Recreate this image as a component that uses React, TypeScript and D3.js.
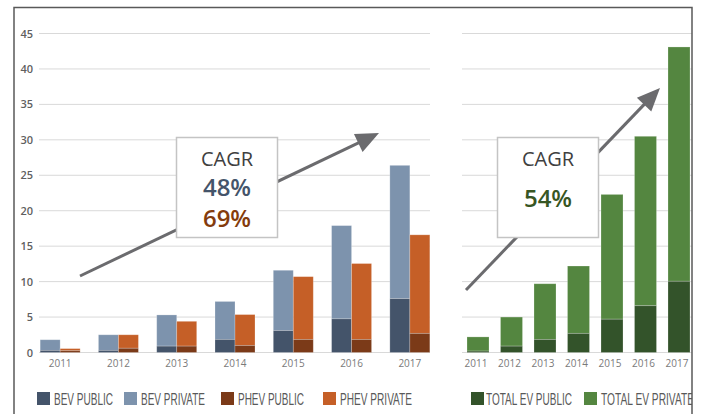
import * as d3 from 'd3';

const years = ['2011', '2012', '2013', '2014', '2015', '2016', '2017'];
const bevPublic = [0.3, 0.3, 0.9, 1.85, 3.1, 4.75, 7.6];
const bevPrivate = [1.5, 2.2, 4.4, 5.35, 8.5, 13.15, 18.8];
const phevPublic = [0.25, 0.6, 0.9, 1.0, 1.85, 1.85, 2.7];
const phevPrivate = [0.3, 1.9, 3.5, 4.35, 8.85, 10.7, 13.9];
const totalPublic = [0.2, 0.9, 1.85, 2.7, 4.7, 6.6, 10.05];
const totalPrivate = [2.0, 4.1, 7.85, 9.5, 17.6, 23.9, 33.05];
const yTicks = [0, 5, 10, 15, 20, 25, 30, 35, 40, 45];

const colors = {
  bevPublic: '#44546a',
  bevPrivate: '#7d93ad',
  phevPublic: '#7b3a18',
  phevPrivate: '#c55f27',
  totalPublic: '#33532a',
  totalPrivate: '#548640',
};

const W = 701;
const H = 414;
const frameRight = 692;
const sansFont = '"Open Sans", "Noto Sans", sans-serif';
const narrowFont = '"Liberation Sans Narrow", "Arial Narrow", "Liberation Sans", sans-serif';

const y = d3.scaleLinear().domain([0, 45]).range([352.5, 33.5]);
const xLeft = d3.scaleBand().domain(years).range([31, 439]).paddingInner(0.314).paddingOuter(0.157);
const xSub = d3.scaleBand().domain(['bev', 'phev']).range([0, xLeft.bandwidth()]);
const xRight = d3.scaleBand().domain(years).range([461.25, 695.75]).paddingInner(0.343).paddingOuter(0.1715);

const barStroke = 'rgba(255,255,255,0.28)';

const arrow = (x1: number, y1: number, x2: number, y2: number) => {
  const len = Math.hypot(x2 - x1, y2 - y1);
  const ux = (x2 - x1) / len;
  const uy = (y2 - y1) / len;
  const headLen = 23;
  const half = 10;
  const bx = x2 - ux * headLen;
  const by = y2 - uy * headLen;
  const pts = [
    [x2, y2],
    [bx - uy * half, by + ux * half],
    [bx + uy * half, by - ux * half],
  ];
  return (
    <g>
      <line x1={x1} y1={y1} x2={bx + ux * 2} y2={by + uy * 2} stroke="#6b6b6e" strokeWidth={3} />
      <polygon points={pts.map((p) => p.join(',')).join(' ')} fill="#6b6b6e" />
    </g>
  );
};

const Stack = ({ x, w, lower, upper, c1, c2 }: any) => (
  <g>
    <rect x={x} y={y(lower + upper)} width={w} height={y(lower) - y(lower + upper)} fill={c2} stroke={barStroke} strokeWidth={0.8} />
    <rect x={x} y={y(lower)} width={w} height={y(0) - y(lower)} fill={c1} stroke={barStroke} strokeWidth={0.8} />
  </g>
);

// legend: square position, gap to text and condensed text width
const legendItems = [
  { label: 'BEV PUBLIC', color: colors.bevPublic, x: 37, gap: 17, w: 59 },
  { label: 'BEV PRIVATE', color: colors.bevPrivate, x: 124, gap: 17, w: 64 },
  { label: 'PHEV PUBLIC', color: colors.phevPublic, x: 221, gap: 17, w: 66 },
  { label: 'PHEV PRIVATE', color: colors.phevPrivate, x: 323, gap: 17, w: 72 },
  { label: 'TOTAL EV PUBLIC', color: colors.totalPublic, x: 471, gap: 15, w: 86 },
  { label: 'TOTAL EV PRIVATE', color: colors.totalPrivate, x: 584, gap: 17, w: 93 },
];

export default function App() {
  return (
    <svg width={W} height={H} style={{ position: 'absolute', left: 0, top: 0, background: '#fff' }}>
      <defs>
        <clipPath id="frame">
          <rect x={0} y={0} width={frameRight} height={H} />
        </clipPath>
      </defs>
      <g clipPath="url(#frame)">
        {/* gridlines */}
        {yTicks.map((t) => (
          <g key={t}>
            <line x1={39} x2={430} y1={y(t)} y2={y(t)} stroke="#d9d9d9" strokeWidth={1} />
            <line x1={462} x2={frameRight} y1={y(t)} y2={y(t)} stroke="#d9d9d9" strokeWidth={1} />
            <text x={33} y={y(t) + 4} textAnchor="end" fontFamily={sansFont} fontSize={11} fontWeight={600} fill="#5f5f5f">
              {t}
            </text>
          </g>
        ))}

        {/* left chart */}
        {years.map((yr, i) => (
          <g key={yr}>
            <Stack x={(xLeft(yr) as number) + (xSub('bev') as number)} w={xSub.bandwidth()} lower={bevPublic[i]} upper={bevPrivate[i]} c1={colors.bevPublic} c2={colors.bevPrivate} />
            <Stack x={(xLeft(yr) as number) + (xSub('phev') as number)} w={xSub.bandwidth()} lower={phevPublic[i]} upper={phevPrivate[i]} c1={colors.phevPublic} c2={colors.phevPrivate} />
            <text x={(xLeft(yr) as number) + xLeft.bandwidth() / 2} y={367} textAnchor="middle" fontFamily={sansFont} fontSize={10} fill="#7a7a7a">
              {yr}
            </text>
          </g>
        ))}

        {/* right chart */}
        {years.map((yr, i) => (
          <g key={'r' + yr}>
            <Stack x={xRight(yr)} w={xRight.bandwidth()} lower={totalPublic[i]} upper={totalPrivate[i]} c1={colors.totalPublic} c2={colors.totalPrivate} />
            <text x={(xRight(yr) as number) + xRight.bandwidth() / 2 - 2} y={367} textAnchor="middle" fontFamily={sansFont} fontSize={10} fill="#7a7a7a">
              {yr}
            </text>
          </g>
        ))}

        {/* arrows */}
        {arrow(80, 276, 379, 133)}
        {arrow(466, 290, 660, 88)}

        {/* CAGR boxes */}
        <rect x={176.5} y={137.5} width={101} height={100} fill="#fff" stroke="#c4c4c4" strokeWidth={1.5} />
        <text x={227} y={166} textAnchor="middle" fontFamily={sansFont} fontSize={20} fill="#404040">CAGR</text>
        <text x={227} y={196} textAnchor="middle" fontFamily={sansFont} fontSize={24} fontWeight={600} fill="#44546a">48%</text>
        <text x={227} y={227} textAnchor="middle" fontFamily={sansFont} fontSize={24} fontWeight={600} fill="#843c0c">69%</text>

        <rect x={497.5} y={137.5} width={101} height={100} fill="#fff" stroke="#c4c4c4" strokeWidth={1.5} />
        <text x={548} y={166} textAnchor="middle" fontFamily={sansFont} fontSize={20} fill="#404040">CAGR</text>
        <text x={548} y={207} textAnchor="middle" fontFamily={sansFont} fontSize={24} fontWeight={600} fill="#375623">54%</text>

        {/* legend */}
        {legendItems.map((l) => (
          <g key={l.label}>
            <rect x={l.x} y={392} width={13} height={13} fill={l.color} />
            <text
              x={l.x + l.gap}
              y={404.5}
              fontFamily={narrowFont}
              fontSize={16}
              fill="#595959"
              textLength={l.w}
              lengthAdjust="spacingAndGlyphs"
            >
              {l.label}
            </text>
          </g>
        ))}
      </g>

      {/* frame */}
      <path d={`M14,${H} V7.5 H${frameRight} V${H}`} fill="none" stroke="#595959" strokeWidth={1.5} />
    </svg>
  );
}
